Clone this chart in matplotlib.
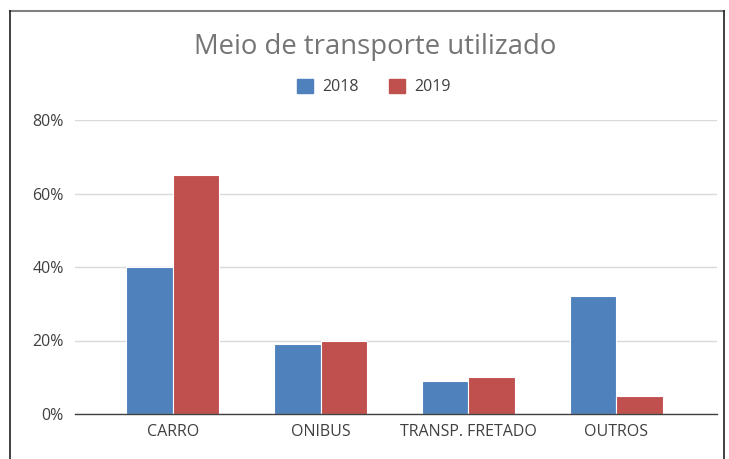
import matplotlib
matplotlib.use("Agg")
import matplotlib.pyplot as plt
import numpy as np
from matplotlib.lines import Line2D
from matplotlib.patches import Rectangle

categories = ["CARRO", "ONIBUS", "TRANSP. FRETADO", "OUTROS"]
series_names = ["2018", "2019"]
values_2018 = [0.40, 0.19, 0.09, 0.32]
values_2019 = [0.65, 0.20, 0.10, 0.05]
yticks = [0.0, 0.2, 0.4, 0.6, 0.8]
ytick_labels = ["0%", "20%", "40%", "60%", "80%"]
title = "Meio de transporte utilizado"

colors = ["#4F81BD", "#C0504D"]
plt.rcParams['font.family'] = ['Open Sans', 'DejaVu Sans']

W, H = 729, 459
fig = plt.figure(figsize=(W/100, H/100), dpi=100)
ax = fig.add_axes([75/W, 45/H, (717-75)/W, (414-120)/H])

x = np.arange(len(categories))
bw = 0.315
ax.bar(x - bw/2, values_2018, bw, color=colors[0], edgecolor="white", linewidth=0.8, label=series_names[0], zorder=3)
ax.bar(x + bw/2, values_2019, bw, color=colors[1], edgecolor="white", linewidth=0.8, label=series_names[1], zorder=3)

ax.set_xlim(-0.66, 3.68)
ax.set_ylim(0, 0.8)
ax.set_yticks(yticks)
ax.set_yticklabels(ytick_labels, fontsize=11.5, color="#404040")
ax.set_xticks(x)
ax.set_xticklabels(categories, fontsize=11.5, color="#404040")
ax.tick_params(axis="both", length=0)
ax.tick_params(axis="y", pad=8)
ax.tick_params(axis="x", pad=7)
ax.grid(axis="y", color="#d9d9d9", linewidth=1, zorder=0)
for s in ["top", "right", "left"]:
    ax.spines[s].set_visible(False)
ax.spines["bottom"].set_color("#404040")
ax.spines["bottom"].set_linewidth(1)
ax.spines["bottom"].set_zorder(4)

fig.text(375/W, 1 - 47/H, title, ha="center", va="center", fontsize=19.8, color="#757575")

handles = [Rectangle((0, 0), 1, 1, color=c) for c in colors]
fig.legend(handles, series_names, loc="center", bbox_to_anchor=(374/W, 1 - 87/H),
           ncol=2, frameon=False, fontsize=11.5, handlelength=1.0, handleheight=1.0,
           columnspacing=1.9, handletextpad=0.6, labelcolor="#404040")

# border
fig.add_artist(Line2D([10/W, 724/W], [1 - 11/H, 1 - 11/H], color="#808080", linewidth=1.5))
fig.add_artist(Line2D([10/W, 10/W], [0, 1 - 11/H], color="#202020", linewidth=1.2))
fig.add_artist(Line2D([724/W, 724/W], [0, 1 - 11/H], color="#202020", linewidth=1.2))

fig.savefig("out.png", dpi=100)
